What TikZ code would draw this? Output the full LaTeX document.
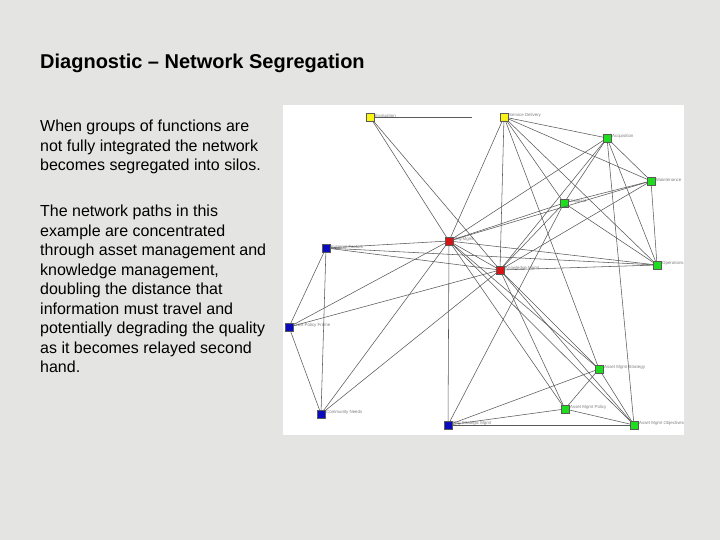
\documentclass[tikz,border=0pt]{standalone}
\usepackage{fontspec}
\setmainfont{Liberation Sans}
\usetikzlibrary{positioning}
\definecolor{slideGray}{RGB}{228,228,226}
\definecolor{netYellow}{RGB}{250,245,20}
\definecolor{netGreen}{RGB}{30,220,30}
\definecolor{netRed}{RGB}{215,20,20}
\definecolor{netBlue}{RGB}{10,10,190}
\definecolor{edgeGray}{RGB}{90,90,90}
\tikzset{
  netnode/.style={draw=black!65,line width=.4pt,minimum size=7.5pt,inner sep=0pt},
  nodeLabel/.style={font=\fontsize{4.4}{5}\selectfont,text=black!50,inner sep=1pt,yshift=1.5pt},
  netEdge/.style={draw=edgeGray,line width=.55pt},
  bodyText/.style={font=\fontsize{16}{19.5}\selectfont,align=left,inner sep=0pt,anchor=north west}
}
\begin{document}
\begin{tikzpicture}[x=1pt,y=-1pt]
\useasboundingbox[fill=slideGray] (0,0) rectangle (720,540);
\node[font=\bfseries\fontsize{20}{22}\selectfont,inner sep=0pt,anchor=base west] (title) at (40,69) {Diagnostic -- Network Segregation};
\node[bodyText] (paraOne) at (40,120) {When groups of functions are\\not fully integrated the network\\becomes segregated into silos.};
\node[bodyText] (paraTwo) at (40,205) {The network paths in this\\example are concentrated\\through asset management and\\knowledge management,\\doubling the distance that\\information must travel and\\potentially degrading the quality\\as it becomes relayed second\\hand.};
% network panel
\fill[white] (283,105) rectangle (684,435);
\node[netnode,fill=netYellow,label={[nodeLabel]right:Evaluation}] (eval) at (370,117) {};
\node[netnode,fill=netYellow,label={[nodeLabel]right:Service Delivery}] (servDel) at (504,117) {};
\node[netnode,fill=netGreen,label={[nodeLabel]right:Acquisition}] (acquis) at (607,138) {};
\node[netnode,fill=netGreen,label={[nodeLabel]right:Maintenance}] (maint) at (651,181) {};
\node[netnode,fill=netGreen,label={[nodeLabel]right:Disposal}] (dispos) at (564,203) {};
\node[netnode,fill=netRed,label={[nodeLabel]right:Org Mgmt}] (orgMgmt) at (449,241) {};
\node[netnode,fill=netRed,label={[nodeLabel]right:Knowledge Mgmt}] (knowMgmt) at (500,270) {};
\node[netnode,fill=netGreen,label={[nodeLabel]right:Operations}] (operat) at (657,265) {};
\node[netnode,fill=netBlue,label={[nodeLabel]right:External Factors}] (extFact) at (326,248) {};
\node[netnode,fill=netBlue,label={[nodeLabel]right:Govt Policy Frame}] (govPol) at (289,327) {};
\node[netnode,fill=netBlue,label={[nodeLabel]right:Community Needs}] (commNeed) at (321,414) {};
\node[netnode,fill=netBlue,label={[nodeLabel]right:Org Strategic Mgmt}] (orgStrat) at (448,425) {};
\node[netnode,fill=netGreen,label={[nodeLabel]right:Asset Mgmt Strategy}] (amStrat) at (599,369) {};
\node[netnode,fill=netGreen,label={[nodeLabel]right:Asset Mgmt Policy}] (amPol) at (565,409) {};
\node[netnode,fill=netGreen,label={[nodeLabel]right:Asset Mgmt Objectives}] (amObj) at (634,425) {};
\coordinate (evalEnd) at (472,117);
% links
\draw[netEdge] (eval) -- (evalEnd);
\foreach \a/\b in {eval/orgMgmt,eval/knowMgmt,
  servDel/acquis,servDel/maint,servDel/dispos,servDel/operat,servDel/knowMgmt,servDel/orgMgmt,servDel/amStrat,
  acquis/maint,acquis/operat,acquis/dispos,acquis/orgMgmt,acquis/knowMgmt,acquis/amObj,
  maint/operat,maint/dispos,maint/orgMgmt,maint/knowMgmt,
  dispos/operat,dispos/orgMgmt,dispos/knowMgmt,
  orgMgmt/knowMgmt,orgMgmt/operat,orgMgmt/extFact,orgMgmt/govPol,orgMgmt/commNeed,orgMgmt/orgStrat,
  orgMgmt/amStrat,orgMgmt/amPol,orgMgmt/amObj,
  knowMgmt/operat,knowMgmt/extFact,knowMgmt/govPol,knowMgmt/commNeed,knowMgmt/amStrat,knowMgmt/amPol,knowMgmt/amObj,
  extFact/operat,extFact/govPol,extFact/commNeed,govPol/commNeed,
  orgStrat/dispos,orgStrat/amObj,orgStrat/amPol,orgStrat/amStrat,
  amPol/amStrat,amPol/amObj,amStrat/amObj}
  \draw[netEdge] (\a) -- (\b);
\end{tikzpicture}
\end{document}
